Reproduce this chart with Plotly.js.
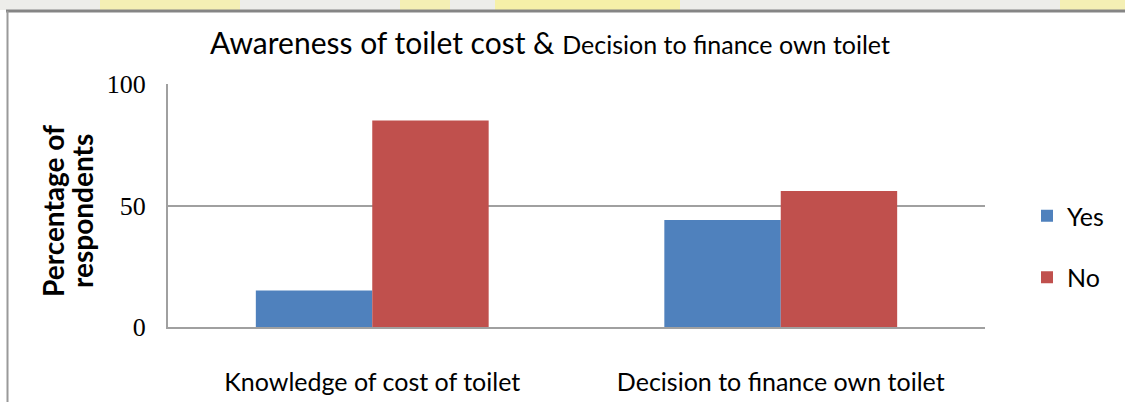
<!DOCTYPE html>
<html>
<head>
<meta charset="utf-8">
<script src="https://cdn.plot.ly/plotly-3.0.1.min.js"></script>
<style>html,body{margin:0;padding:0;background:#fff;}#chart{width:1125px;height:402px;}</style>
</head>
<body>
<div id="chart"></div>
<script>
var categories = ["Knowledge of cost of toilet", "Decision to finance own toilet"];
var yesValues = [15, 44];
var noValues = [85, 56];
var seriesNames = ["Yes", "No"];
var yTickVals = [0, 50, 100];
var yTickText = ["0", "50", "100"];
var titleMain = "Awareness of toilet cost & ";
var titleSecond = "Decision to finance own toilet";
var yTitleLines = ["Percentage of", "respondents"];

var W = 1125, H = 402;
var L = 168, R = 985, T = 84, B = 327;
function px(x){ return (x - L) / (R - L); }
function py(y){ return (B - y) / (B - T); }

var traces = [
  {type: "bar", name: seriesNames[0], x: categories, y: yesValues,
   marker: {color: "#4F81BD"}, legendgroup: "a", hoverinfo: "none"},
  {type: "bar", name: seriesNames[1], x: categories, y: noValues,
   marker: {color: "#C0504D"}, legendgroup: "b", hoverinfo: "none"}
];

var shapes = [
  {type: "rect", xref: "paper", yref: "paper", x0: px(0), x1: px(W), y0: py(0), y1: py(10), fillcolor: "#ededea", line: {width: 0}, layer: "below"},
  {type: "rect", xref: "paper", yref: "paper", x0: px(100), x1: px(240), y0: py(0), y1: py(10), fillcolor: "#f4efb4", line: {width: 0}, layer: "below"},
  {type: "rect", xref: "paper", yref: "paper", x0: px(400), x1: px(450), y0: py(0), y1: py(10), fillcolor: "#f4efb4", line: {width: 0}, layer: "below"},
  {type: "rect", xref: "paper", yref: "paper", x0: px(495), x1: px(680), y0: py(0), y1: py(10), fillcolor: "#f6f0a8", line: {width: 0}, layer: "below"},
  {type: "rect", xref: "paper", yref: "paper", x0: px(1060), x1: px(1125), y0: py(0), y1: py(10), fillcolor: "#f4efb4", line: {width: 0}, layer: "below"},
  {type: "line", xref: "paper", yref: "paper", x0: px(6), x1: px(W + 5), y0: py(11), y1: py(11), line: {color: "#858585", width: 3}},
  {type: "line", xref: "paper", yref: "paper", x0: px(7.5), x1: px(7.5), y0: py(11), y1: py(H + 5), line: {color: "#9a9a9a", width: 2}}
];

var layout = {
  width: W, height: H, autosize: false,
  margin: {l: L, r: W - R, t: T, b: H - B, pad: 0},
  paper_bgcolor: "#ffffff", plot_bgcolor: "#ffffff",
  font: {family: "Lato, 'Open Sans', sans-serif", color: "#000"},
  title: {
    text: titleMain + "<span style='font-size:25px'>" + titleSecond + "</span>",
    font: {family: "Lato, 'Open Sans', sans-serif", size: 30, color: "#000"},
    x: px(550), xanchor: "center", xref: "paper",
    y: 1 - 43 / H, yanchor: "middle", yref: "container"
  },
  barmode: "group", bargap: 0.43, bargroupgap: 0,
  xaxis: {
    type: "category", showline: true, linecolor: "#a0a0a0", linewidth: 2,
    ticks: "", showgrid: false, zeroline: false,
    tickfont: {family: "Lato, 'Open Sans', sans-serif", size: 25, color: "#000"},
    ticklabelstandoff: 32
  },
  yaxis: {
    range: [0, 100], tickvals: yTickVals, ticktext: yTickText,
    showgrid: true, gridcolor: "#a0a0a0", gridwidth: 2,
    showline: true, linecolor: "#a0a0a0", linewidth: 2,
    zeroline: false, ticks: "",
    tickfont: {family: "'Liberation Serif', serif", size: 26, color: "#000"},
    ticklabelstandoff: 15
  },
  showlegend: true,
  legend: {
    x: px(1027), xanchor: "left", y: py(193), yanchor: "top",
    font: {family: "Lato, 'Open Sans', sans-serif", size: 25, color: "#000"},
    tracegroupgap: 26, bgcolor: "rgba(0,0,0,0)", borderwidth: 0,
    itemwidth: 30, traceorder: "grouped"
  },
  annotations: [
    {xref: "paper", yref: "paper", x: px(53), y: py(211), xanchor: "center", yanchor: "middle",
     text: "<b>" + yTitleLines[0] + "</b>", textangle: -90, showarrow: false,
     font: {family: "Lato, 'Open Sans', sans-serif", size: 28, color: "#000"}},
    {xref: "paper", yref: "paper", x: px(82), y: py(211), xanchor: "center", yanchor: "middle",
     text: "<b>" + yTitleLines[1] + "</b>", textangle: -90, showarrow: false,
     font: {family: "Lato, 'Open Sans', sans-serif", size: 28, color: "#000"}}
  ],
  shapes: shapes
};

Plotly.newPlot("chart", traces, layout, {displayModeBar: false, staticPlot: true});
</script>
</body>
</html>
